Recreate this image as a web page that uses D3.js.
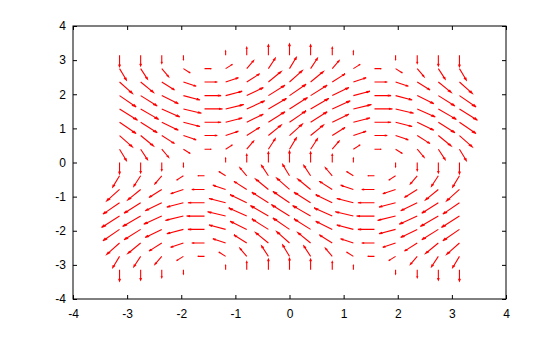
<!DOCTYPE html>
<html><head><meta charset="utf-8">
<script src="https://cdn.jsdelivr.net/npm/d3@7"></script>
<style>body{margin:0;background:#fff}svg{display:block}text{font-family:"Liberation Sans",Arial,sans-serif;font-size:12px;fill:#000}</style>
</head><body>
<svg id="c" width="560" height="337"></svg>
<script>
// grid coordinates (x columns, y rows)
const xGrid = [-3.14,-2.75,-2.36,-1.96,-1.57,-1.18,-0.79,-0.39,0,0.39,0.79,1.18,1.57,1.96,2.36,2.75,3.14];
const yGrid = [-3.14,-2.75,-2.36,-1.96,-1.57,-1.18,-0.79,-0.39,0,0.39,0.79,1.18,1.57,1.96,2.36,2.75,3.14];
// horizontal component, one value per row (same across a row)
const uByRow = [0,-0.38,-0.71,-0.92,-1,-0.92,-0.71,-0.38,0,0.38,0.71,0.92,1,0.92,0.71,0.38,0];
// vertical component, one value per column (same down a column)
const vByCol = [-1,-0.92,-0.71,-0.38,0,0.38,0.71,0.92,1,0.92,0.71,0.38,0,-0.38,-0.71,-0.92,-1];
const xTicks = [-4,-3,-2,-1,0,1,2,3,4];
const yTicks = [-4,-3,-2,-1,0,1,2,3,4];

const svg = d3.select("#c");
const L = 73, R = 506, T = 26, B = 299;
const x = d3.scaleLinear().domain([-4,4]).range([L,R]);
const y = d3.scaleLinear().domain([-4,4]).range([B,T]);

// vectors
const vecs = [];
yGrid.forEach((yy,i)=>xGrid.forEach((xx,j)=>vecs.push({x:xx,y:yy,u:uByRow[i],v:vByCol[j]})));
// autoscale like quiver
const nx = xGrid.length, ny = yGrid.length;
const dx = (d3.max(xGrid)-d3.min(xGrid))/nx, dy = (d3.max(yGrid)-d3.min(yGrid))/ny;
const maxLen = d3.max(vecs, d=>Math.hypot(d.u,d.v));
const s = 0.9*Math.hypot(dx,dy)/maxLen;
const as = 0.2;
const g = svg.append("g");
vecs.forEach(d=>{
  const u = d.u*s, v = d.v*s;
  if (Math.hypot(u,v) < 1e-9) return;
  const xe = d.x+u, ye = d.y+v;
  const xt = d.x+u*(1-as), yt = d.y+v*(1-as);
  const xa1 = xt + (d.y-yt)*as/3, xa2 = xt - (d.y-yt)*as/3;
  const ya1 = yt - (d.x-xt)*as/3, ya2 = yt + (d.x-xt)*as/3;
  g.append("path")
    .attr("d", `M${x(d.x)},${y(d.y)}L${x(xe)},${y(ye)}M${x(xa1)},${y(ya1)}L${x(xe)},${y(ye)}L${x(xa2)},${y(ya2)}`)
    .attr("fill","none").attr("stroke","#ff0000").attr("stroke-width",1.1);
});

// axes box
svg.append("rect").attr("x",L).attr("y",T).attr("width",R-L).attr("height",B-T)
  .attr("fill","none").attr("stroke","#000").attr("stroke-width",1);
const tl = 4;
const ax = svg.append("g").attr("transform",`translate(0,${B})`)
  .call(d3.axisBottom(x).tickValues(xTicks).tickSizeInner(-tl).tickSizeOuter(0).tickPadding(10).tickFormat(d3.format("d")));
const ay = svg.append("g").attr("transform",`translate(${L},0)`)
  .call(d3.axisLeft(y).tickValues(yTicks).tickSizeInner(-tl).tickSizeOuter(0).tickPadding(7).tickFormat(d3.format("d")));
const at = svg.append("g").attr("transform",`translate(0,${T})`)
  .call(d3.axisTop(x).tickValues(xTicks).tickSizeInner(-tl).tickSizeOuter(0).tickFormat(""));
const ar = svg.append("g").attr("transform",`translate(${R},0)`)
  .call(d3.axisRight(y).tickValues(yTicks).tickSizeInner(-tl).tickSizeOuter(0).tickFormat(""));
[ax,ay,at,ar].forEach(a=>{a.select(".domain").remove();a.selectAll("text").style("font-family","'Liberation Sans',Arial,sans-serif").style("font-size","12px");});
ax.selectAll("text").text(d=>d<0?"-"+Math.abs(d):d);
ay.selectAll("text").text(d=>d<0?"-"+Math.abs(d):d);
</script>
</body></html>
